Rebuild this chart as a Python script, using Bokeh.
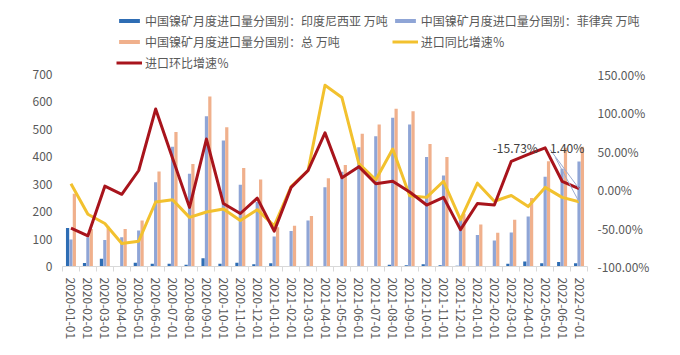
from bokeh.plotting import figure
from bokeh.models import (Range1d, LinearAxis, FixedTicker, NumeralTickFormatter,
                          Legend, LegendItem, ColumnDataSource, Label)
from bokeh.transform import dodge
from bokeh.embed import file_html
from bokeh.resources import INLINE

months = ["2020-01-01", "2020-02-01", "2020-03-01", "2020-04-01", "2020-05-01", "2020-06-01",
          "2020-07-01", "2020-08-01", "2020-09-01", "2020-10-01", "2020-11-01", "2020-12-01",
          "2021-01-01", "2021-02-01", "2021-03-01", "2021-04-01", "2021-05-01", "2021-06-01",
          "2021-07-01", "2021-08-01", "2021-09-01", "2021-10-01", "2021-11-01", "2021-12-01",
          "2022-01-01", "2022-02-01", "2022-03-01", "2022-04-01", "2022-05-01", "2022-06-01",
          "2022-07-01"]
indonesia = [140, 13, 28, 2, 14, 10, 10, 6, 30, 10, 14, 8,
             12, 2, 1, 1, 0, 1, 1, 6, 5, 8, 5, 3,
             1, 0, 10, 18, 12, 16, 12]
philippines = [98, 107, 97, 107, 131, 307, 437, 338, 548, 459, 298, 235,
               109, 129, 168, 289, 345, 435, 475, 542, 518, 399, 332, 170,
               115, 95, 124, 182, 327, 356, 383]
total = [265, 137, 145, 137, 168, 346, 490, 374, 620, 508, 359, 317,
         143, 149, 184, 322, 370, 484, 518, 575, 566, 447, 399, 192,
         153, 123, 170, 250, 384, 433, 437]
yoy_pct = [7.7, -32, -44, -70, -67, -16, -13, -36, -29, -25, -40, -26,
           -47, 4, 25, 136, 120, 34, 13, 53, -8, -10, 11, -39,
           8.5, -15, -7.5, -22, 3, -10, -15.73]
mom_pct = [-50, -60, 4.6, -6, 25, 105, 41, -23, 66, -18, -31, -11,
           -54, 3, 25, 74, 15.5, 30, 7.7, 11, -3, -20, -10, -52,
           -18, -20, 37, 46, 54.5, 11, 1.40]
left_ticks = [0, 100, 200, 300, 400, 500, 600, 700]
right_ticks = [-1.0, -0.5, 0.0, 0.5, 1.0, 1.5]

names = ["中国镍矿月度进口量分国别：印度尼西亚 万吨",
         "中国镍矿月度进口量分国别：菲律宾 万吨",
         "中国镍矿月度进口量分国别：总 万吨",
         "进口同比增速％",
         "进口环比增速％"]

FONT = "Noto Sans CJK SC"
GRAY = "#595959"
C_INDO, C_PHIL, C_TOTAL = "#2E6DB4", "#8FA5D6", "#F0B08C"
C_YOY, C_MOM = "#F2C12E", "#A8141C"

# layout (pixels)
W, H = 680, 355
LEFT, BOTTOM = 62, 89
PLOT_RIGHT = 587       # right end of the category area (right axis labels start ~10px after)
FRAME_RIGHT = 650      # frame is widened so the long legend label is not clipped
AX_TOP = 74            # y pixel of the 700 / 150% ticks

n = len(months)
cat_px = (PLOT_RIGHT - LEFT) / n
x_end = -0.5 + (FRAME_RIGHT - LEFT) / cat_px
frame_h = H - BOTTOM
stretch = frame_h / (frame_h - AX_TOP)

xi = list(range(n))
src = ColumnDataSource(dict(x=xi, indo=indonesia, phil=philippines, total=total,
                            yoy=[v / 100 for v in yoy_pct], mom=[v / 100 for v in mom_pct]))

lo_l, hi_l = left_ticks[0], left_ticks[-1]
lo_r, hi_r = right_ticks[0], right_ticks[-1]
p = figure(width=W, height=H, output_backend="svg", toolbar_location=None,
           x_range=Range1d(-0.5, x_end),
           y_range=Range1d(lo_l, lo_l + (hi_l - lo_l) * stretch),
           x_axis_type=None, y_axis_type=None,
           min_border_left=LEFT, min_border_right=W - FRAME_RIGHT,
           min_border_top=0, min_border_bottom=BOTTOM)
p.extra_y_ranges = {"pct": Range1d(lo_r, lo_r + (hi_r - lo_r) * stretch)}
p.outline_line_color = None
p.grid.visible = False
p.background_fill_color = "white"
p.border_fill_color = "white"

# axes
ax_left = LinearAxis(ticker=FixedTicker(ticks=left_ticks))
ax_right = LinearAxis(y_range_name="pct", ticker=FixedTicker(ticks=right_ticks),
                      formatter=NumeralTickFormatter(format="0.00%"))
boundaries = [i - 0.5 for i in range(n + 1)]
ax_bottom = LinearAxis(ticker=FixedTicker(ticks=xi, minor_ticks=boundaries),
                       major_label_overrides={i: m for i, m in zip(xi, months)},
                       bounds=(-0.5, n - 0.5))
for ax in (ax_left, ax_right, ax_bottom):
    ax.major_label_text_font = FONT
    ax.major_label_text_font_size = "12px"
    ax.major_label_text_color = GRAY
    ax.major_tick_line_color = None
    ax.minor_tick_line_color = None
    ax.major_tick_out = 0
    ax.major_tick_in = 0
ax_left.axis_line_color = None
ax_right.axis_line_color = None
ax_left.major_label_standoff = 10
ax_right.major_label_standoff = (PLOT_RIGHT + 10) - FRAME_RIGHT
ax_bottom.axis_line_color = "#D9D9D9"
ax_bottom.minor_tick_line_color = "#D9D9D9"
ax_bottom.minor_tick_out = 5
ax_bottom.minor_tick_in = 0
ax_bottom.major_label_orientation = "vertical"
ax_bottom.major_label_standoff = 6
p.add_layout(ax_left, "left")
p.add_layout(ax_right, "right")
p.add_layout(ax_bottom, "below")

bw = 0.19
r_indo = p.vbar(x=dodge("x", -0.2), top="indo", width=bw, source=src,
                fill_color=C_INDO, line_color=None)
r_phil = p.vbar(x=dodge("x", 0.0), top="phil", width=bw, source=src,
                fill_color=C_PHIL, line_color=None)
r_total = p.vbar(x=dodge("x", 0.2), top="total", width=bw, source=src,
                 fill_color=C_TOTAL, line_color=None)
r_yoy = p.line(x="x", y="yoy", source=src, y_range_name="pct",
               line_color=C_YOY, line_width=3, line_join="round")
r_mom = p.line(x="x", y="mom", source=src, y_range_name="pct",
               line_color=C_MOM, line_width=3, line_join="round")

# data labels with leader lines (for the last point)
last = xi[-1]
p.segment(x0=[last - 1.7, last - 1.4], y0=[0.52, 0.42], x1=[last, last],
          y1=[mom_pct[-1] / 100, yoy_pct[-1] / 100], y_range_name="pct",
          line_color="#9AAAD0", line_width=1)
p.add_layout(Label(x=last - 4, y=0.55, y_range_name="pct", x_offset=4,
                   text=f"{yoy_pct[-1]:.2f}%", text_align="center", text_baseline="middle",
                   text_font=FONT, text_font_size="12px", text_color="#404040"))
p.add_layout(Label(x=last - 1, y=0.55, y_range_name="pct", x_offset=5,
                   text=f"{mom_pct[-1]:.2f}%", text_align="center", text_baseline="middle",
                   text_font=FONT, text_font_size="12px", text_color="#404040"))

legend = Legend(items=[LegendItem(label=names[0], renderers=[r_indo]),
                       LegendItem(label=names[1], renderers=[r_phil]),
                       LegendItem(label=names[2], renderers=[r_total]),
                       LegendItem(label=names[3], renderers=[r_yoy]),
                       LegendItem(label=names[4], renderers=[r_mom])],
                orientation="horizontal", ncols=2,
                location=(54, 195), padding=0, margin=0, spacing=4,
                glyph_width=26, glyph_height=5, label_standoff=3, label_height=14,
                label_text_font=FONT, label_text_font_size="12px", label_text_color=GRAY,
                border_line_color=None, background_fill_alpha=0)
p.add_layout(legend, "center")

open("out.html", "w").write(file_html(p, INLINE))
